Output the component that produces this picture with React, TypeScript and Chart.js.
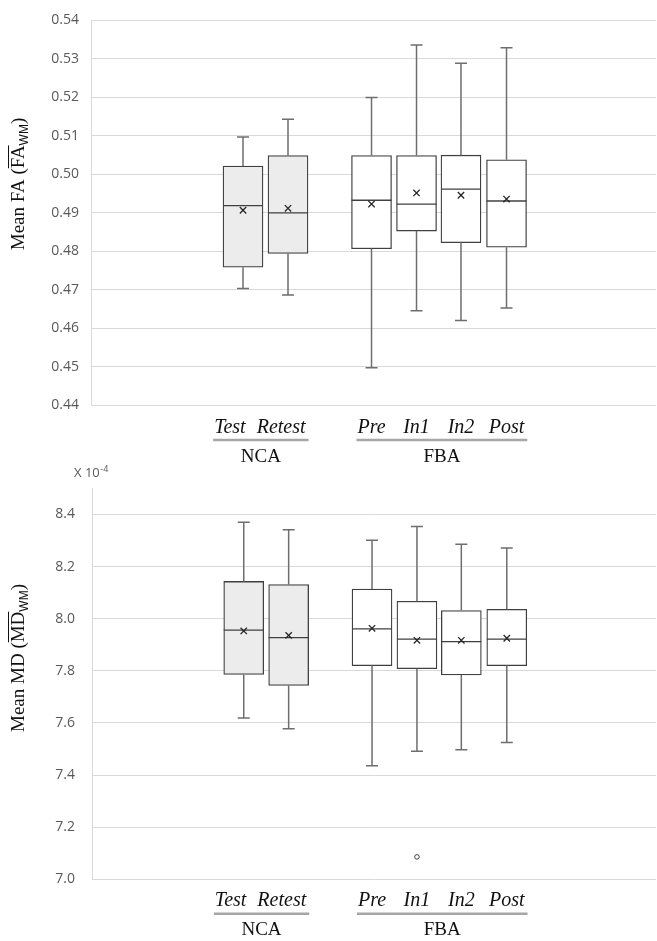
import React, { useEffect, useRef } from 'react';
import { Chart, registerables } from 'chart.js';

Chart.register(...registerables);

// ---------- data ----------
const categories = ['Test', 'Retest', 'Pre', 'In1', 'In2', 'Post'];
const groupNames = ['NCA', 'FBA'];
const groupOf = [0, 0, 1, 1, 1, 1];
// positions of the boxes along the (hidden) slot axis
const slotPos = [1, 2, 3.856, 4.856, 5.844, 6.856];

// Mean FA (top panel)
const faMin = [0.4704, 0.4687, 0.4498, 0.4646, 0.4621, 0.4653];
const faQ1 = [0.4759, 0.4795, 0.4807, 0.4853, 0.4823, 0.4811];
const faMedian = [0.4919, 0.49, 0.4933, 0.4923, 0.4962, 0.4931];
const faQ3 = [0.5022, 0.5049, 0.5049, 0.5049, 0.505, 0.5038];
const faMax = [0.5097, 0.5143, 0.52, 0.5336, 0.5289, 0.5329];
const faMean = [0.4907, 0.4912, 0.4923, 0.4952, 0.4946, 0.4936];
const faOutliers: number[][] = [[], [], [], [], [], []];
const faTicks = [0.44, 0.45, 0.46, 0.47, 0.48, 0.49, 0.5, 0.51, 0.52, 0.53, 0.54];

// Mean MD (bottom panel, x 10^-4)
const mdMin = [7.619, 7.578, 7.436, 7.491, 7.497, 7.525];
const mdQ1 = [7.786, 7.744, 7.82, 7.808, 7.784, 7.82];
const mdMedian = [7.956, 7.927, 7.961, 7.922, 7.912, 7.922];
const mdQ3 = [8.143, 8.131, 8.114, 8.067, 8.031, 8.036];
const mdMax = [8.37, 8.341, 8.301, 8.354, 8.286, 8.271];
const mdMean = [7.953, 7.936, 7.963, 7.917, 7.917, 7.925];
const mdOutliers: number[][] = [[], [], [], [7.086], [], []];
const mdTicks = [7.0, 7.2, 7.4, 7.6, 7.8, 8.0, 8.2, 8.4];

// ---------- styles ----------
const BOX_BORDER = '#404040';
const WHISKER = '#6e6e6e';
const GRID = '#d9d9d9';
const TICK_TEXT = '#595959';
const groupFill = ['#ececec', '#ffffff'];

// ---------- plugins ----------
const boxExtras = {
  id: 'boxExtras',
  afterDatasetDraw(chart: any, args: any, opts: any) {
    if (args.meta.type !== 'bar') return;
    const { ctx, scales } = chart;
    const y = scales.y;
    const st = opts.stats;
    ctx.save();
    args.meta.data.forEach((bar: any, i: number) => {
      const props = bar.getProps(['x', 'width'], true);
      const cx = props.x;
      const w = props.width;
      const yMax = y.getPixelForValue(st.max[i]);
      const yQ3 = y.getPixelForValue(st.q3[i]);
      const yQ1 = y.getPixelForValue(st.q1[i]);
      const yMin = y.getPixelForValue(st.min[i]);
      const yMed = y.getPixelForValue(st.median[i]);
      const cap = 6;
      ctx.strokeStyle = WHISKER;
      ctx.lineWidth = 1.5;
      ctx.beginPath();
      ctx.moveTo(cx, yQ3);
      ctx.lineTo(cx, yMax);
      ctx.moveTo(cx - cap, yMax);
      ctx.lineTo(cx + cap, yMax);
      ctx.moveTo(cx, yQ1);
      ctx.lineTo(cx, yMin);
      ctx.moveTo(cx - cap, yMin);
      ctx.lineTo(cx + cap, yMin);
      ctx.stroke();
      ctx.strokeStyle = BOX_BORDER;
      ctx.lineWidth = 1.3;
      ctx.beginPath();
      ctx.moveTo(cx - w / 2, yMed);
      ctx.lineTo(cx + w / 2, yMed);
      ctx.stroke();
    });
    ctx.restore();
  },
};

const groupLabels = {
  id: 'groupLabels',
  afterDraw(chart: any, _args: any, opts: any) {
    const { ctx, chartArea, scales } = chart;
    const x = scales.x;
    const base = chartArea.bottom;
    ctx.save();
    ctx.textBaseline = 'alphabetic';
    groupNames.forEach((g, gi) => {
      const idx = categories.map((_, i) => i).filter((i) => groupOf[i] === gi);
      ctx.font = 'italic 20px "Liberation Serif"';
      const ws = idx.map((i) => ctx.measureText(categories[i]).width);
      const cs = idx.map((i) => x.getPixelForValue(slotPos[i]));
      for (let it = 0; it < 5; it++) {
        for (let k = 1; k < cs.length; k++) {
          const gap = cs[k] - ws[k] / 2 - (cs[k - 1] + ws[k - 1] / 2);
          if (gap < opts.minGap) {
            const p = (opts.minGap - gap) / 2;
            cs[k - 1] -= p;
            cs[k] += p;
          }
        }
      }
      const dx = opts.groupShift[gi];
      ctx.fillStyle = '#111';
      ctx.textAlign = 'center';
      idx.forEach((i, k) => {
        ctx.fillText(categories[i], cs[k] + dx, base + opts.wordY);
      });
      const left = cs[0] + dx - ws[0] / 2 - 1;
      const right = cs[cs.length - 1] + dx + ws[ws.length - 1] / 2 + 3;
      ctx.strokeStyle = '#a6a6a6';
      ctx.lineWidth = 2.5;
      ctx.beginPath();
      ctx.moveTo(left, base + opts.lineY);
      ctx.lineTo(right, base + opts.lineY);
      ctx.stroke();
      ctx.font = '19px "Liberation Serif"';
      ctx.fillText(g, (left + right) / 2, base + opts.nameY);
    });
    ctx.restore();
  },
};

const yTitle = {
  id: 'yTitle',
  afterDraw(chart: any, _args: any, opts: any) {
    const { ctx } = chart;
    const serif = '19px "Liberation Serif"';
    const small = '12px "Liberation Sans"';
    ctx.save();
    ctx.font = serif;
    const w1 = ctx.measureText(opts.prefix).width;
    const w2 = ctx.measureText(opts.over).width;
    const w4 = ctx.measureText(')').width;
    ctx.font = small;
    const w3 = ctx.measureText(opts.sub).width;
    const total = w1 + w2 + w3 + w4;
    ctx.translate(opts.x, opts.y);
    ctx.rotate(-Math.PI / 2);
    ctx.fillStyle = '#111';
    ctx.textBaseline = 'alphabetic';
    ctx.textAlign = 'left';
    let px = -total / 2;
    ctx.font = serif;
    ctx.fillText(opts.prefix, px, 0);
    px += w1;
    ctx.fillText(opts.over, px, 0);
    ctx.strokeStyle = '#111';
    ctx.lineWidth = 1;
    ctx.beginPath();
    ctx.moveTo(px, -15.5);
    ctx.lineTo(px + w2, -15.5);
    ctx.stroke();
    px += w2;
    ctx.font = small;
    ctx.fillText(opts.sub, px, 4);
    px += w3;
    ctx.font = serif;
    ctx.fillText(')', px, 0);
    ctx.restore();
  },
};

const scaleNote = {
  id: 'scaleNote',
  afterDraw(chart: any, _args: any, opts: any) {
    if (!opts.show) return;
    const { ctx } = chart;
    ctx.save();
    ctx.fillStyle = TICK_TEXT;
    ctx.textBaseline = 'alphabetic';
    ctx.textAlign = 'left';
    ctx.font = '13px "Open Sans"';
    ctx.fillText('X 10', opts.x, opts.y);
    const w = ctx.measureText('X 10').width;
    ctx.font = '9px "Open Sans"';
    ctx.fillText('-4', opts.x + w + 0.5, opts.y - 5);
    ctx.restore();
  },
};

// ---------- chart component ----------
type BoxProps = {
  width: number;
  height: number;
  top: number;
  stats: { min: number[]; q1: number[]; median: number[]; q3: number[]; max: number[] };
  means: number[];
  outliers: number[][];
  ticks: number[];
  decimals: number;
  yMin: number;
  yMax: number;
  padTop: number;
  padBottom: number;
  axisWidth: number;
  tickPad: number;
  title: { prefix: string; over: string; sub: string; x: number; y: number };
  note: { show: boolean; x: number; y: number };
};

function BoxChart(p: BoxProps) {
  const ref = useRef<HTMLCanvasElement | null>(null);
  useEffect(() => {
    if (!ref.current) return;
    const boxData = categories.map((_, i) => ({ x: slotPos[i], y: [p.stats.q1[i], p.stats.q3[i]] }));
    const meanData = categories.map((_, i) => ({ x: slotPos[i], y: p.means[i] }));
    const outData: { x: number; y: number }[] = [];
    p.outliers.forEach((arr, i) => arr.forEach((v) => outData.push({ x: slotPos[i], y: v })));
    const chart = new Chart(ref.current, {
      type: 'bar',
      data: {
        datasets: [
          {
            type: 'scatter',
            data: meanData,
            pointStyle: 'crossRot',
            pointRadius: 4.5,
            pointBorderWidth: 1.3,
            borderColor: '#262626',
            backgroundColor: '#262626',
            order: 1,
          } as any,
          {
            type: 'scatter',
            data: outData,
            pointStyle: 'circle',
            pointRadius: 2.3,
            pointBorderWidth: 1,
            borderColor: '#404040',
            backgroundColor: '#ffffff',
            order: 1,
          } as any,
          {
            type: 'bar',
            data: boxData,
            backgroundColor: categories.map((_, i) => groupFill[groupOf[i]]),
            borderColor: BOX_BORDER,
            borderWidth: 1.3,
            borderSkipped: false,
            barThickness: 40,
            order: 2,
          } as any,
        ],
      },
      options: {
        animation: false,
        responsive: false,
        devicePixelRatio: 1,
        layout: { autoPadding: false, padding: { left: 0, right: 1, top: p.padTop, bottom: p.padBottom } },
        scales: {
          x: {
            type: 'linear',
            display: false,
            offset: false,
            min: -2.378,
            max: 10.178,
          },
          y: {
            type: 'linear',
            min: p.yMin,
            max: p.yMax,
            afterBuildTicks: (scale: any) => {
              scale.ticks = p.ticks.map((v) => ({ value: v }));
            },
            afterFit: (scale: any) => {
              scale.width = p.axisWidth;
            },
            grid: { color: GRID, lineWidth: 1, drawTicks: false },
            border: { display: true, color: GRID, width: 1 },
            ticks: {
              padding: p.tickPad,
              color: TICK_TEXT,
              font: { family: '"Open Sans"', size: 14 },
              callback: (v: any) => Number(v).toFixed(p.decimals),
            },
          },
        },
        plugins: {
          legend: { display: false },
          tooltip: { enabled: false },
          boxExtras: { stats: p.stats },
          groupLabels: { minGap: 11, groupShift: [-10, 0], wordY: 27, lineY: 34.5, nameY: 56 },
          yTitle: p.title,
          scaleNote: p.note,
        } as any,
      },
      plugins: [boxExtras, groupLabels, yTitle, scaleNote],
    });
    return () => chart.destroy();
  }, []);
  return (
    <canvas
      ref={ref}
      width={p.width}
      height={p.height}
      style={{ position: 'absolute', left: 0, top: p.top, width: p.width, height: p.height }}
    />
  );
}

export default function App() {
  return (
    <div style={{ position: 'absolute', left: 0, top: 0, width: 657, height: 941, background: '#fff' }}>
      <BoxChart
        width={657}
        height={463}
        top={0}
        stats={{ min: faMin, q1: faQ1, median: faMedian, q3: faQ3, max: faMax }}
        means={faMean}
        outliers={faOutliers}
        ticks={faTicks}
        decimals={2}
        yMin={0.44}
        yMax={0.54}
        padTop={13.3}
        padBottom={57.5}
        axisWidth={91}
        tickPad={12}
        title={{ prefix: 'Mean FA (', over: 'FA', sub: 'WM', x: 24, y: 184 }}
        note={{ show: false, x: 0, y: 0 }}
      />
      <BoxChart
        width={657}
        height={478}
        top={463}
        stats={{ min: mdMin, q1: mdQ1, median: mdMedian, q3: mdQ3, max: mdMax }}
        means={mdMean}
        outliers={mdOutliers}
        ticks={mdTicks}
        decimals={1}
        yMin={7.0}
        yMax={8.5}
        padTop={18.7}
        padBottom={61.7}
        axisWidth={92}
        tickPad={17}
        title={{ prefix: 'Mean MD (', over: 'MD', sub: 'WM', x: 24, y: 195 }}
        note={{ show: true, x: 74, y: 14 }}
      />
    </div>
  );
}
